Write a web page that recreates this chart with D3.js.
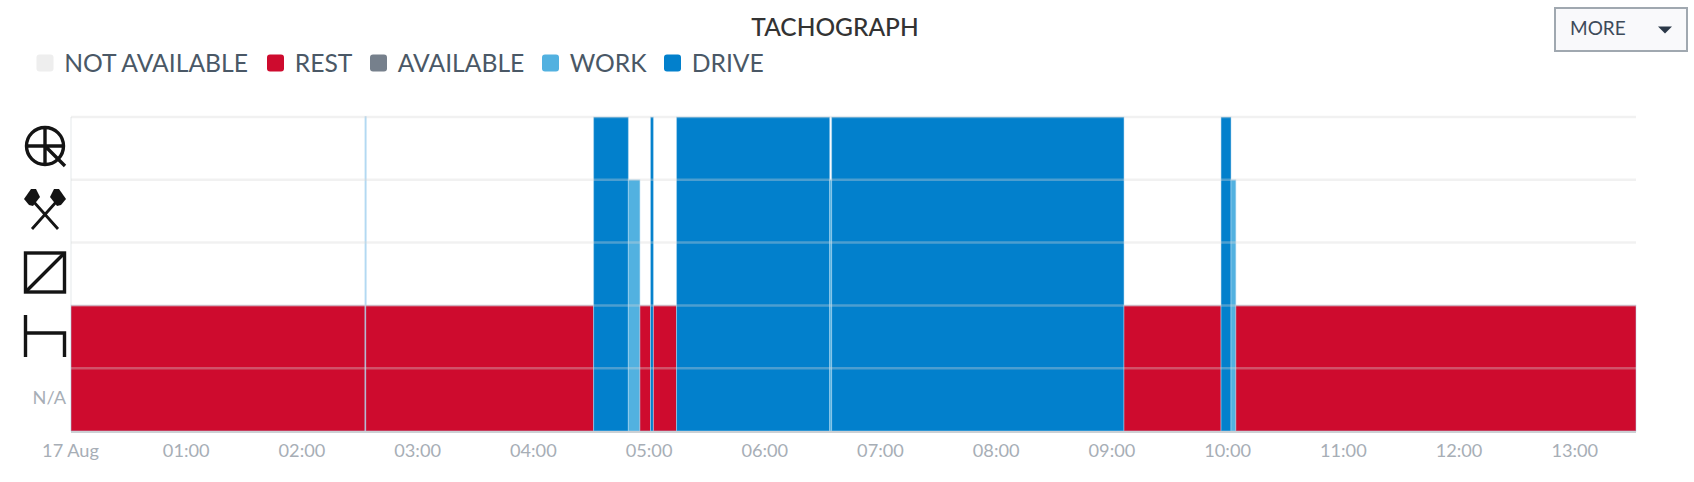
<!DOCTYPE html>
<html>
<head>
<meta charset="utf-8">
<script src="https://cdn.jsdelivr.net/npm/d3@7"></script>
<style>
  html, body { margin: 0; padding: 0; background: #fff; }
  svg { display: block; font-family: Lato, sans-serif; }
  .axis text { fill: #a7aeb6; font-size: 18.2px; font-family: Lato, sans-serif; }
  .icon { filter: blur(0.45px); }
</style>
</head>
<body>
<svg width="1694" height="482"></svg>
<script>
// lanes, bottom to top
var lanes = ["N/A", "REST", "AVAILABLE", "WORK", "DRIVE"];
var legendNames = ["NOT AVAILABLE", "REST", "AVAILABLE", "WORK", "DRIVE"];
var legendColors = ["#eeeeee", "#ce0b2e", "#76808c", "#52b1e0", "#0280cc"];

// when each state starts, the last time only closes the last state
var changeTimes = ["00:00:00", "02:32:40", "02:32:50", "04:31:00", "04:49:00", "04:55:00", "05:00:30", "05:02:00",
  "05:14:00", "06:33:25", "06:34:25", "09:06:00", "09:56:20", "10:01:30", "10:04:00", "13:31:30"];
var changeStates = ["REST", "DRIVE", "REST", "DRIVE", "WORK", "REST", "DRIVE", "REST",
  "DRIVE", "WORK", "DRIVE", "REST", "DRIVE", "WORK", "REST"];

var tickHours = [0, 1, 2, 3, 4, 5, 6, 7, 8, 9, 10, 11, 12, 13];

var stateColor = {
  "REST": "#ce0b2e",
  "AVAILABLE": "#76808c",
  "WORK": "#52b1e0",
  "DRIVE": "#0280cc"
};

var svg = d3.select("svg");
var parseTime = d3.utcParse("%Y-%m-%d %H:%M:%S");
function day(t) { return parseTime("2021-08-17 " + t); }

var plot = { left: 71, right: 1636, top: 117, bottom: 431 };

var x = d3.scaleUtc()
  .domain([day(changeTimes[0]), day(changeTimes[changeTimes.length - 1])])
  .range([plot.left, plot.right]);

var y = d3.scaleBand()
  .domain(lanes)
  .range([plot.bottom, plot.top]);

var segments = changeStates.map(function(s, i) {
  return { state: s, start: day(changeTimes[i]), end: day(changeTimes[i + 1]) };
});

// left axis line
svg.append("line")
  .attr("x1", plot.left).attr("x2", plot.left)
  .attr("y1", plot.top).attr("y2", plot.bottom)
  .attr("stroke", "#eef0f2")
  .attr("stroke-width", 1.5);

// state bars
svg.selectAll("rect.seg")
  .data(segments)
  .join("rect")
  .attr("class", "seg")
  .attr("x", function(d) { return x(d.start); })
  .attr("width", function(d) { return x(d.end) - x(d.start); })
  .attr("y", function(d) { return y(d.state); })
  .attr("height", function(d) { return plot.bottom - y(d.state); })
  .attr("fill", function(d) { return stateColor[d.state]; })
  .attr("stroke", "#b3d9f2")
  .attr("stroke-width", function(d) { return x(d.end) - x(d.start) < 1 ? 1.6 : 1; })
  .attr("stroke-opacity", function(d) { return x(d.end) - x(d.start) < 1 ? 1 : 0.5; });

// horizontal grid sits over the bars
svg.selectAll("line.grid")
  .data(lanes)
  .join("line")
  .attr("class", "grid")
  .attr("x1", plot.left).attr("x2", plot.right)
  .attr("y1", function(d) { return y(d); })
  .attr("y2", function(d) { return y(d); })
  .attr("stroke", "rgba(215,215,215,0.35)")
  .attr("stroke-width", 2.5);

// x axis
var xAxis = d3.axisBottom(x)
  .tickValues(tickHours.map(function(h) { return day(d3.format("02")(h) + ":00:00"); }))
  .tickSize(0)
  .tickPadding(13)
  .tickFormat(function(d, i) { return i == 0 ? "17 Aug" : d3.utcFormat("%H:%M")(d); });

var gx = svg.append("g")
  .attr("class", "axis")
  .attr("transform", "translate(-1," + plot.bottom + ")")
  .call(xAxis);
gx.select(".domain").remove();

svg.append("line")
  .attr("x1", plot.left).attr("x2", plot.right)
  .attr("y1", plot.bottom + 1).attr("y2", plot.bottom + 1)
  .attr("stroke", "#ccd0d4")
  .attr("stroke-width", 2);

// y axis labels: only N/A is text, the others are icons
svg.append("text")
  .attr("x", 66)
  .attr("y", y("N/A") + y.bandwidth() / 2 - 1)
  .attr("dy", "0.32em")
  .attr("text-anchor", "end")
  .attr("fill", "#a7aeb6")
  .attr("font-size", 18.2)
  .text("N/A");

function icon(lane) {
  return svg.append("g")
    .attr("class", "icon")
    .attr("transform", "translate(45," + (y(lane) + y.bandwidth() / 2) + ")")
    .attr("fill", "none")
    .attr("stroke", "#141414")
    .attr("stroke-width", 3.4);
}

var driveIcon = icon("DRIVE");
driveIcon.attr("transform", "translate(45,146)");
driveIcon.append("circle").attr("r", 18.5);
driveIcon.append("path").attr("d", "M-19,0H19M0,-19V19M0,0L20,20");

var workIcon = icon("WORK");
workIcon.attr("transform", "translate(45,209)");
workIcon.append("path").attr("d", "M-12,-8L13,20M12,-8L-13,20").attr("stroke-width", 2.8);
workIcon.append("path").attr("d", "M-21,-10L-14,-20L-9,-20L-5,-12L-12,-3L-16,-4Z").attr("fill", "#141414").attr("stroke", "none");
workIcon.append("path").attr("d", "M21,-10L14,-20L9,-20L5,-12L12,-3L16,-4Z").attr("fill", "#141414").attr("stroke", "none");

var availIcon = icon("AVAILABLE");
availIcon.attr("transform", "translate(45,272.5)");
availIcon.append("rect").attr("x", -19.5).attr("y", -19.5).attr("width", 39).attr("height", 39);
availIcon.append("path").attr("d", "M-19,19L19,-19");

var restIcon = icon("REST");
restIcon.attr("transform", "translate(45,336)");
restIcon.append("path").attr("d", "M-19.5,-21V21M-19.5,-3H19.5V21");

// title
svg.append("text")
  .attr("x", 835)
  .attr("y", 36)
  .attr("text-anchor", "middle")
  .attr("fill", "#333333")
  .attr("font-size", 24.5)
  .attr("font-weight", 500)
  .text("TACHOGRAPH");

// legend
var legendX = [36.5, 267, 370, 542, 664];
var legend = svg.selectAll("g.legend")
  .data(legendNames)
  .join("g")
  .attr("class", "legend")
  .attr("transform", function(d, i) { return "translate(" + legendX[i] + ",54.5)"; });

legend.append("rect")
  .attr("width", 17)
  .attr("height", 17)
  .attr("rx", 3)
  .attr("fill", function(d, i) { return legendColors[i]; });

legend.append("text")
  .attr("x", 27.7)
  .attr("y", 17.3)
  .attr("fill", "#4a5866")
  .attr("font-size", 24.7)
  .text(function(d) { return d; });

// MORE button
svg.append("rect")
  .attr("x", 1555).attr("y", 8)
  .attr("width", 132).attr("height", 43)
  .attr("fill", "#f9f9fb")
  .attr("stroke", "#a0a8b0")
  .attr("stroke-width", 2);

svg.append("text")
  .attr("x", 1570)
  .attr("y", 35)
  .attr("fill", "#3d4a5a")
  .attr("font-size", 19)
  .text("MORE");

svg.append("path")
  .attr("d", "M1658,26.5H1672L1665,33.5Z")
  .attr("fill", "#2b3848");
</script>
</body>
</html>
